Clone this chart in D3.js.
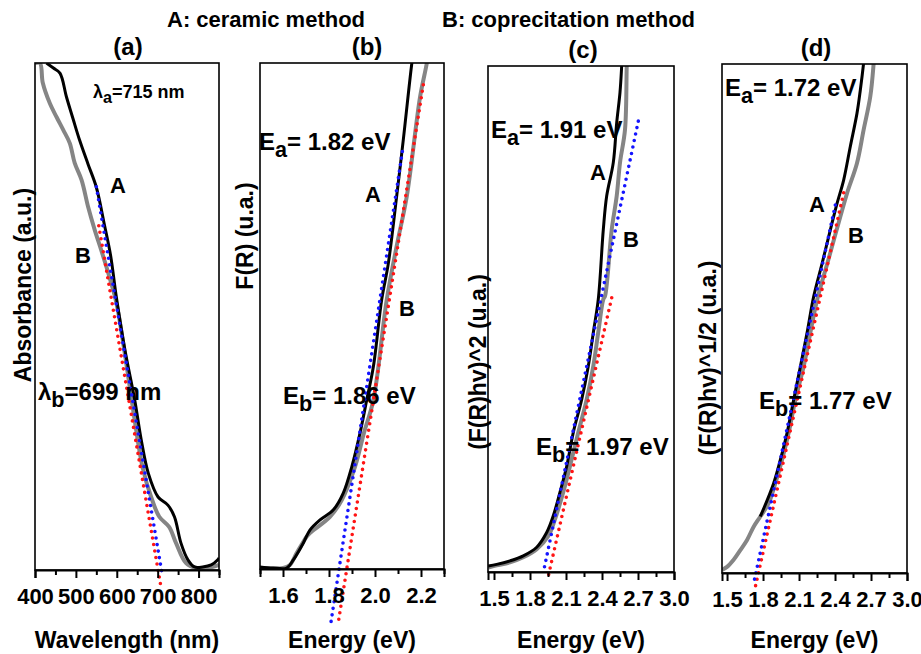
<!DOCTYPE html>
<html><head><meta charset="utf-8">
<script src="https://cdn.jsdelivr.net/npm/d3@7"></script>
<style>
body{margin:0;background:#fff}
text{font-family:"Liberation Sans",Arial,sans-serif;font-weight:bold;fill:#000}
</style>
</head><body>
<svg id="chart" width="921" height="654"></svg>
<script>
// ---------- DATA ----------
// Panel (a): absorbance vs wavelength (nm)
const aCeramic = [[428,1.0],[445,0.99],[461,0.98],[477,0.933],[493,0.89],[509,0.848],[530,0.80],[550,0.755],[570,0.680],[585,0.62],[599,0.538],[620,0.434],[644,0.335],[660,0.256],[677,0.191],[701,0.144],[725,0.128],[741,0.105],[757,0.053],[774,0.02],[790,0.006],[810,0.006],[831,0.01],[847,0.02],[850,0.024]];
const aCoprec = [[400,1.0],[412,1.0],[419,0.961],[436,0.921],[453,0.893],[469,0.868],[485,0.842],[497,0.803],[514,0.769],[530,0.716],[546,0.671],[562,0.631],[582,0.578],[599,0.527],[620,0.425],[643,0.300],[663,0.203],[684,0.144],[704,0.105],[728,0.085],[745,0.053],[769,0.014],[793,0.004],[833,0.006],[850,0.01]];
const aTangentA = [[550,0.756],[712,-0.013]];
const aTangentB = [[556,0.679],[708,-0.033]];

// Panel (b): F(R) vs energy (eV)
const bCeramic = [[1.5,0.004],[1.557,0.002],[1.616,0.002],[1.645,0.018],[1.688,0.051],[1.717,0.077],[1.761,0.097],[1.819,0.117],[1.862,0.150],[1.899,0.202],[1.935,0.269],[1.964,0.334],[1.993,0.400],[2.029,0.532],[2.058,0.604],[2.094,0.736],[2.123,0.848],[2.160,0.999],[2.17,1.03]];
const bCoprec = [[1.5,0.002],[1.601,0.002],[1.630,0.008],[1.660,0.032],[1.703,0.064],[1.717,0.071],[1.804,0.103],[1.855,0.136],[1.913,0.202],[1.952,0.269],[1.993,0.334],[2.051,0.532],[2.095,0.640],[2.138,0.736],[2.196,0.933],[2.225,0.999],[2.235,1.03]];
const bTangentA = [[2.119,0.825],[1.807,-0.110]];
const bTangentB = [[2.210,0.957],[1.840,-0.107]];

// Panel (c): (F(R)hv)^2 vs energy (eV)
const cCeramic = [[1.4525,0.012],[1.5225,0.015],[1.633,0.022],[1.744,0.032],[1.856,0.049],[1.939,0.078],[1.994,0.111],[2.05,0.158],[2.106,0.209],[2.161,0.276],[2.231,0.341],[2.286,0.407],[2.328,0.474],[2.369,0.539],[2.411,0.677],[2.439,0.743],[2.494,0.809],[2.5225,0.888],[2.55,0.948],[2.564,1.0],[2.57,1.03]];
const cCoprec = [[1.4525,0.009],[1.5225,0.013],[1.633,0.019],[1.744,0.029],[1.856,0.045],[1.9525,0.071],[2.008,0.104],[2.0775,0.158],[2.133,0.209],[2.2025,0.276],[2.2725,0.341],[2.3275,0.407],[2.369,0.474],[2.411,0.539],[2.425,0.545],[2.481,0.677],[2.5225,0.743],[2.55,0.809],[2.592,0.875],[2.606,1.0],[2.61,1.03]];
const cTangentA = [[2.7025,0.891],[1.911,-0.001]];
const cTangentB = [[2.481,0.542],[1.9525,-0.008]];

// Panel (d): (F(R)hv)^1/2 vs energy (eV)
const dCeramic = [[1.7775,0.111],[1.888,0.176],[1.944,0.222],[2.0,0.275],[2.055,0.340],[2.111,0.405],[2.167,0.472],[2.222,0.543],[2.292,0.608],[2.361,0.674],[2.417,0.726],[2.472,0.772],[2.5275,0.838],[2.583,0.903],[2.611,0.949],[2.638,1.001],[2.65,1.03]];
const dCoprec = [[1.458,0.006],[1.5,0.012],[1.555,0.026],[1.611,0.045],[1.667,0.065],[1.722,0.091],[1.7775,0.111],[1.847,0.137],[1.9025,0.176],[1.958,0.222],[2.013,0.275],[2.069,0.340],[2.138,0.405],[2.194,0.472],[2.25,0.536],[2.344,0.615],[2.444,0.700],[2.5,0.746],[2.583,0.805],[2.638,0.870],[2.694,0.936],[2.722,1.001],[2.73,1.03]];
const dTangentA = [[2.4025,0.723],[1.722,-0.020]];
const dTangentB = [[2.472,0.747],[1.736,-0.027]];

// Tick labels
const ticksA = [400,500,600,700,800];
const minorA = [450,550,650,750,850];
const ticksB = [1.6,1.8,2.0,2.2];
const minorB = [1.5,1.7,1.9,2.1,2.3];
const ticksCD = [1.5,1.8,2.1,2.4,2.7,3.0];
const minorCD = [1.65,1.95,2.25,2.55,2.85];

// Text
const headerA = "A: ceramic method";
const headerB = "B: coprecitation method";

// ---------- DRAWING ----------
const svg = d3.select("#chart");
const FONT = '"Liberation Sans",Arial,sans-serif';
const colBlack = "#000", colGray = "#858585", colBlue = "#1414ff", colRed = "#ff1414";

const panels = [
  {id:"a", x0:35, x1:219, y0:63, y1:570, dom:[400,850], ticks:ticksA, minor:minorA, fmt:d3.format("d"),
   ceramic:aCeramic, coprec:aCoprec, tA:aTangentA, tB:aTangentB,
   title:"(a)", titleX:128, titleY:55, xTitle:"Wavelength (nm)", yTitle:"Absorbance (a.u.)", yTitleX:31, yTitleY:285},
  {id:"b", x0:260, x1:444, y0:63, y1:569, dom:[1.5,2.3], ticks:ticksB, minor:minorB, fmt:d3.format(".1f"),
   ceramic:bCeramic, coprec:bCoprec, tA:bTangentA, tB:bTangentB,
   title:"(b)", titleX:367, titleY:55, xTitle:"Energy (eV)", yTitle:"F(R) (u.a.)", yTitleX:253, yTitleY:236},
  {id:"c", x0:488, x1:674, y0:66, y1:572, dom:[1.45,3.0], ticks:ticksCD, minor:minorCD, fmt:d3.format(".1f"),
   ceramic:cCeramic, coprec:cCoprec, tA:cTangentA, tB:cTangentB,
   title:"(c)", titleX:583, titleY:58, xTitle:"Energy (eV)", yTitle:"(F(R)hv)^2 (u.a.)", yTitleX:486, yTitleY:362},
  {id:"d", x0:722, x1:907, y0:64, y1:573, dom:[1.458,3.0], ticks:ticksCD, minor:minorCD, fmt:d3.format(".1f"),
   ceramic:dCeramic, coprec:dCoprec, tA:dTangentA, tB:dTangentB,
   title:"(d)", titleX:816, titleY:56, xTitle:"Energy (eV)", yTitle:"(F(R)hv)^1/2 (u.a.)", yTitleX:716, yTitleY:358}
];

const defs = svg.append("defs");

panels.forEach(p => {
  const x = d3.scaleLinear().domain(p.dom).range([p.x0, p.x1]);
  const y = d3.scaleLinear().domain([0,1]).range([p.y1, p.y0]);
  const g = svg.append("g");

  defs.append("clipPath").attr("id","clip-"+p.id)
    .append("rect").attr("x",p.x0).attr("y",p.y0).attr("width",p.x1-p.x0).attr("height",p.y1-p.y0);

  const line = d3.line().x(d=>x(d[0])).y(d=>y(d[1])).curve(d3.curveCatmullRom.alpha(0.5));
  const cg = g.append("g").attr("clip-path","url(#clip-"+p.id+")");
  cg.append("path").datum(p.coprec).attr("d",line).attr("fill","none")
    .attr("stroke",colGray).attr("stroke-width",4).attr("stroke-linejoin","round");
  cg.append("path").datum(p.ceramic).attr("d",line).attr("fill","none")
    .attr("stroke",colBlack).attr("stroke-width",3).attr("stroke-linejoin","round");

  const straight = d3.line().x(d=>x(d[0])).y(d=>y(d[1]));
  g.append("path").datum(p.tB).attr("d",straight).attr("fill","none")
    .attr("stroke",colRed).attr("stroke-width",3.6).attr("stroke-linecap","round")
    .attr("stroke-dasharray","0 6.6");
  g.append("path").datum(p.tA).attr("d",straight).attr("fill","none")
    .attr("stroke",colBlue).attr("stroke-width",3.6).attr("stroke-linecap","round")
    .attr("stroke-dasharray","0 6.6");

  // frame
  g.append("rect").attr("x",p.x0).attr("y",p.y0).attr("width",p.x1-p.x0).attr("height",p.y1-p.y0)
    .attr("fill","none").attr("stroke","#000").attr("stroke-width",1.6);

  // x axis
  const ax = g.append("g").attr("transform",`translate(0,${p.y1})`)
    .call(d3.axisBottom(x).tickValues(p.ticks).tickFormat(p.fmt).tickSize(8).tickPadding(10));
  ax.select(".domain").attr("stroke-width",2);
  ax.selectAll(".tick line").attr("stroke-width",2);
  ax.selectAll("text").attr("font-size",22).attr("font-family",FONT).attr("font-weight","bold").attr("fill","#000");
  const mx = g.append("g").attr("transform",`translate(0,${p.y1})`)
    .call(d3.axisBottom(x).tickValues(p.minor).tickFormat("").tickSize(5));
  mx.select(".domain").remove();
  mx.selectAll(".tick line").attr("stroke-width",2);

  // titles
  g.append("text").attr("x",p.titleX).attr("y",p.titleY).attr("text-anchor","middle")
    .attr("font-size",24).text(p.title);
  g.append("text").attr("x",(p.x0+p.x1)/2).attr("y",648).attr("text-anchor","middle")
    .attr("font-size",23).text(p.xTitle);
  g.append("text").attr("transform",`translate(${p.yTitleX},${p.yTitleY}) rotate(-90)`)
    .attr("text-anchor","middle").attr("font-size",23).text(p.yTitle);
});

// header
svg.append("text").attr("x",167).attr("y",27).attr("font-size",22).text(headerA);
svg.append("text").attr("x",442).attr("y",27).attr("font-size",22).text(headerB);

// annotation helper: main + subscript + rest
function sublabel(xp, yp, size, main, sub, rest){
  const t = svg.append("text").attr("x",xp).attr("y",yp).attr("font-size",size);
  t.append("tspan").text(main);
  t.append("tspan").attr("dy",size*0.3).attr("font-size",size*0.9).text(sub);
  t.append("tspan").attr("dy",-size*0.3).text(rest);
}
function label(xp, yp, size, s){
  svg.append("text").attr("x",xp).attr("y",yp).attr("font-size",size).text(s);
}
// panel a
sublabel(93, 98, 18, "λ", "a", "=715 nm");
label(110, 193, 22, "A");
label(75, 263, 22, "B");
sublabel(38, 400, 24, "λ", "b", "=699 nm");
// panel b
sublabel(259, 150, 24, "E", "a", "= 1.82 eV");
label(365, 202, 22, "A");
label(399, 316, 22, "B");
sublabel(283, 404, 24, "E", "b", "= 1.86 eV");
// panel c
sublabel(491, 138, 24, "E", "a", "= 1.91 eV");
label(590, 180, 22, "A");
label(623, 247, 22, "B");
sublabel(536, 455, 24, "E", "b", "= 1.97 eV");
// panel d
sublabel(725, 96, 24, "E", "a", "= 1.72 eV");
label(809, 212, 22, "A");
label(848, 243, 22, "B");
sublabel(759, 409, 24, "E", "b", "= 1.77 eV");
</script>
</body></html>
